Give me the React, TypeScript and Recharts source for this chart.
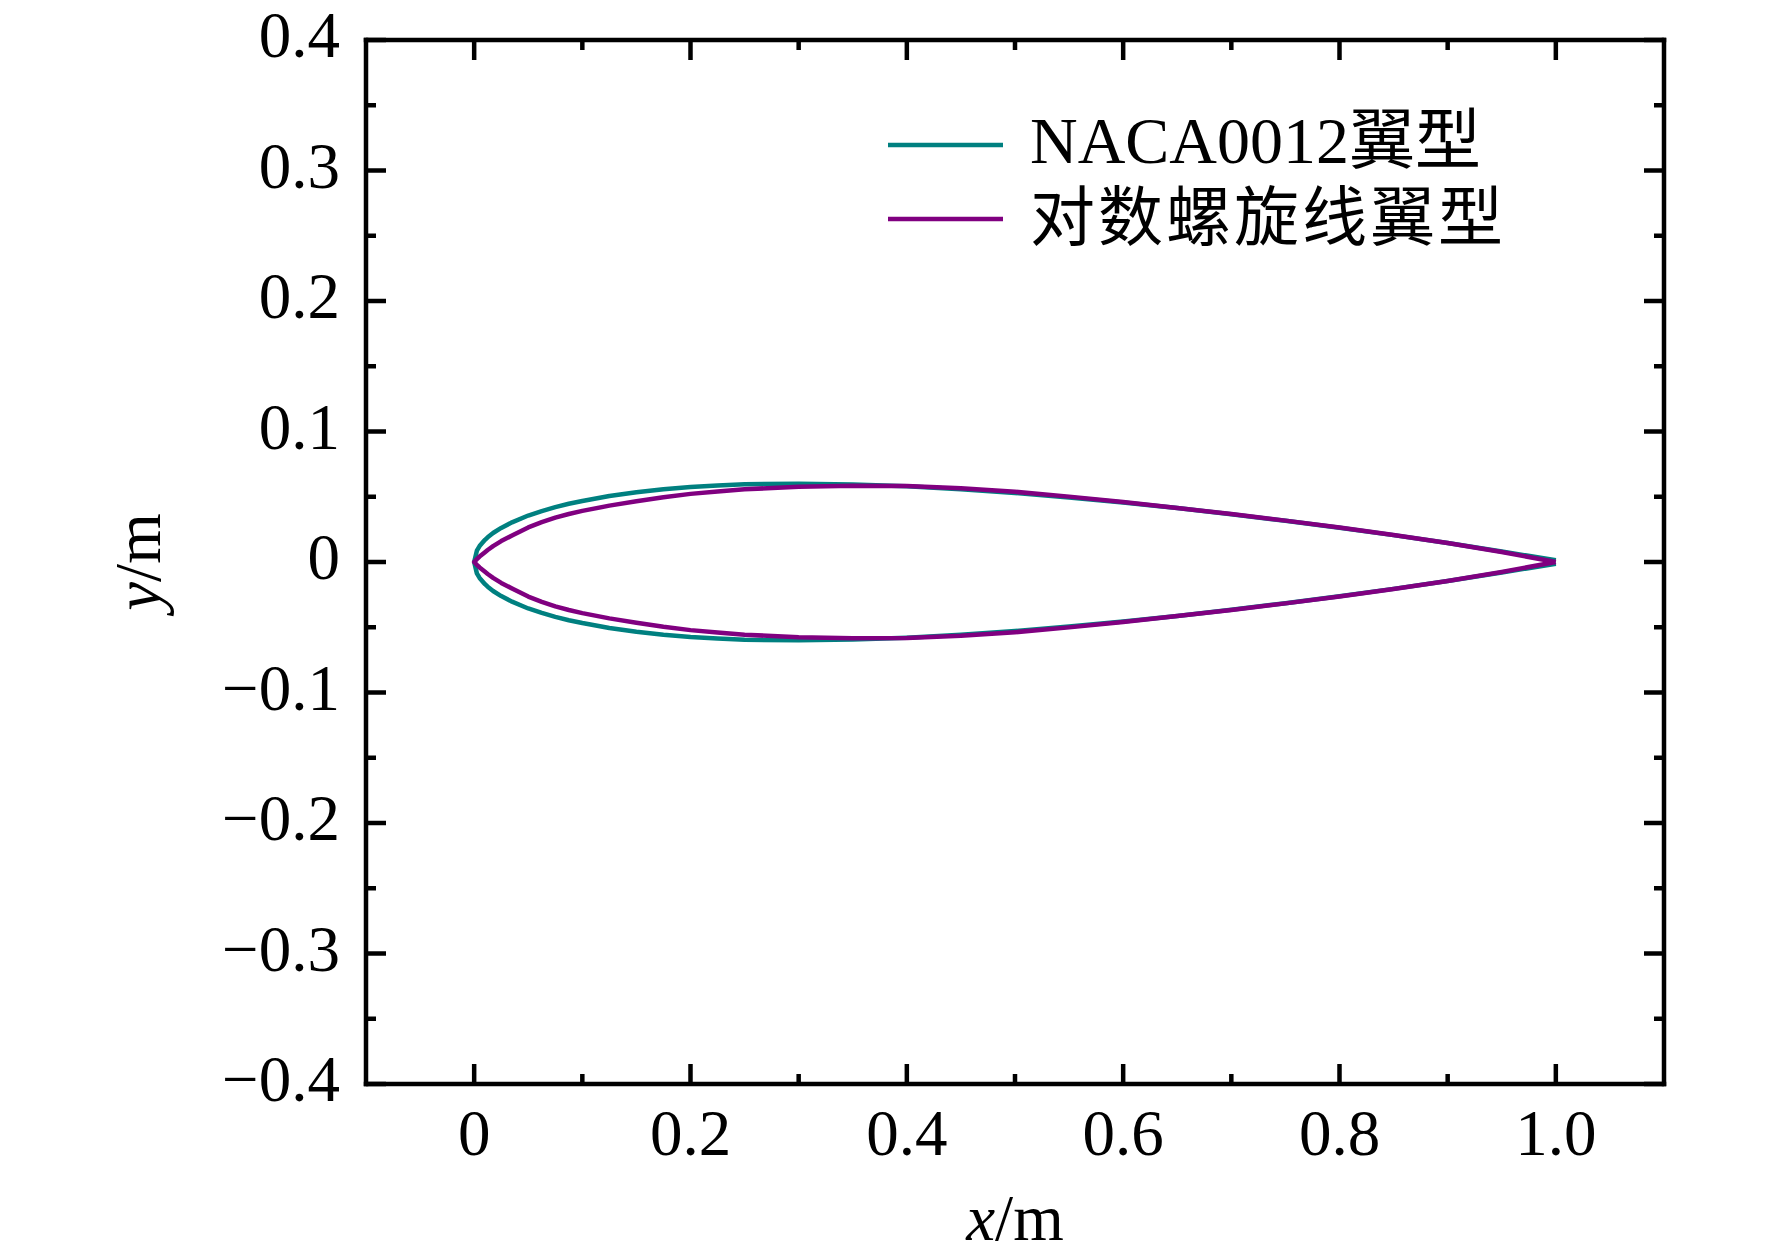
import { LineChart, Line, XAxis, YAxis, Legend } from "recharts";

// chord stations (x/m) and half thickness (y/m)
const stations = [
  0, 0.0025, 0.005, 0.01, 0.0125, 0.0175, 0.025, 0.035, 0.05, 0.0625, 0.075, 0.0875,
  0.1, 0.125, 0.15, 0.175, 0.2, 0.225, 0.25, 0.3, 0.35, 0.4, 0.45, 0.5, 0.55, 0.6,
  0.65, 0.7, 0.75, 0.8, 0.85, 0.9, 0.95, 1.0,
];
const nacaHalf = [
  0, 0.0087, 0.0122, 0.017, 0.0189, 0.0222, 0.0261, 0.0304, 0.0356, 0.039, 0.042,
  0.0446, 0.0468, 0.0506, 0.0534, 0.0557, 0.0574, 0.0586, 0.0596, 0.06, 0.0594,
  0.058, 0.0558, 0.0529, 0.0495, 0.0456, 0.0413, 0.0366, 0.0316, 0.0262, 0.0206,
  0.0145, 0.0081, 0.0013,
];
const spiralHalf = [
  0, 0.0022, 0.0042, 0.0075, 0.0092, 0.0122, 0.016, 0.0203, 0.0265, 0.0305, 0.034,
  0.0368, 0.0392, 0.0432, 0.0465, 0.0496, 0.0522, 0.0541, 0.0557, 0.0577, 0.0585,
  0.0582, 0.0566, 0.0538, 0.0501, 0.0459, 0.0414, 0.0367, 0.0317, 0.0264, 0.0207,
  0.0145, 0.0076, 0,
];

const xMajor = [0, 0.2, 0.4, 0.6, 0.8, 1.0];
const xMajorLabels = ["0", "0.2", "0.4", "0.6", "0.8", "1.0"];
const xMinor = [0.1, 0.3, 0.5, 0.7, 0.9];
const yMajor = [-0.4, -0.3, -0.2, -0.1, 0, 0.1, 0.2, 0.3, 0.4];
const yMajorLabels = ["−0.4", "−0.3", "−0.2", "−0.1", "0", "0.1", "0.2", "0.3", "0.4"];
const yMinor = [-0.35, -0.25, -0.15, -0.05, 0.05, 0.15, 0.25, 0.35];

const xTicks = [...xMajor, ...xMinor].sort((a, b) => a - b);
const yTicks = [...yMajor, ...yMinor].sort((a, b) => a - b);

// upper surface from trailing edge to leading edge, then lower surface back
const toContour = (half: number[]) => {
  const upper = stations.map((x, i) => ({ x, y: half[i] })).reverse();
  const lower = stations.slice(1).map((x, i) => ({ x, y: -half[i + 1] }));
  return [...upper, ...lower];
};

const nacaData = toContour(nacaHalf);
const spiralData = toContour(spiralHalf);

const FONT = '"Liberation Serif", "Times New Roman", "Noto Sans CJK SC", serif';
const FS = 65;
const MAJOR = 20;
const MINOR = 10;
const TICK_W = 4.5;

const BottomTick = (props: any) => {
  const { x, y, payload } = props;
  const i = xMajor.indexOf(payload.value);
  return (
    <g>
      <line x1={x} x2={x} y1={y} y2={y - (i >= 0 ? MAJOR : MINOR)} stroke="#000" strokeWidth={TICK_W} />
      {i >= 0 && (
        <text x={x} y={y + 71} textAnchor="middle" fontSize={FS} fontFamily={FONT} fill="#000">
          {xMajorLabels[i]}
        </text>
      )}
    </g>
  );
};

const TopTick = (props: any) => {
  const { x, y, payload } = props;
  const len = xMajor.includes(payload.value) ? MAJOR : MINOR;
  return <line x1={x} x2={x} y1={y} y2={y + len} stroke="#000" strokeWidth={TICK_W} />;
};

const LeftTick = (props: any) => {
  const { x, y, payload } = props;
  const i = yMajor.indexOf(payload.value);
  return (
    <g>
      <line x1={x} x2={x + (i >= 0 ? MAJOR : MINOR)} y1={y} y2={y} stroke="#000" strokeWidth={TICK_W} />
      {i >= 0 && (
        <text x={x - 26} y={y + 17} textAnchor="end" fontSize={FS} fontFamily={FONT} fill="#000">
          {yMajorLabels[i]}
        </text>
      )}
    </g>
  );
};

const RightTick = (props: any) => {
  const { x, y, payload } = props;
  const len = yMajor.includes(payload.value) ? MAJOR : MINOR;
  return <line x1={x} x2={x - len} y1={y} y2={y} stroke="#000" strokeWidth={TICK_W} />;
};

const XTitle = (props: any) => {
  const { viewBox } = props;
  const cx = viewBox.x + viewBox.width / 2;
  return (
    <text x={cx} y={viewBox.y + 156} textAnchor="middle" fontSize={FS} fontFamily={FONT} fill="#000">
      <tspan fontStyle="italic">x</tspan>/m
    </text>
  );
};

const YTitle = (props: any) => {
  const { viewBox } = props;
  const tx = viewBox.x - 86;
  const ty = viewBox.y + viewBox.height / 2;
  return (
    <text
      x={tx}
      y={ty}
      transform={`rotate(-90, ${tx}, ${ty})`}
      textAnchor="middle"
      fontSize={FS}
      fontFamily={FONT}
      fill="#000"
    >
      <tspan fontStyle="italic">y</tspan>/m
    </text>
  );
};

const LegendBox = (props: any) => {
  const items = props.payload ?? [];
  return (
    <svg width={680} height={170}>
      {items.map((it: any, i: number) => {
        const cy = 45 + i * 74;
        return (
          <g key={it.value}>
            <line x1={8} x2={123} y1={cy} y2={cy} stroke={it.color} strokeWidth={4.5} />
            <text
              x={150}
              y={cy + 18 + i * 3}
              fontSize={i === 0 ? 66 : FS}
              letterSpacing={i === 0 ? 0 : 3}
              fontFamily={FONT}
              fill="#000"
            >
              {it.value}
            </text>
          </g>
        );
      })}
    </svg>
  );
};

const frame = { stroke: "#000", strokeWidth: 4.5, strokeLinecap: "square" as const };

export default function App() {
  return (
    <div style={{ position: "absolute", left: 0, top: 0, background: "#fff" }}>
      <LineChart
        width={1772}
        height={1260}
        margin={{ top: 30, right: 98, bottom: 76, left: 246 }}
      >
        <XAxis
          dataKey="x"
          type="number"
          domain={[-0.1, 1.1]}
          allowDataOverflow
          ticks={xTicks}
          interval={0}
          tickSize={0}
          tickMargin={0}
          tickLine={false}
          tick={BottomTick}
          axisLine={frame}
          height={100}
          label={<XTitle />}
        />
        <XAxis
          xAxisId="top"
          orientation="top"
          dataKey="x"
          type="number"
          domain={[-0.1, 1.1]}
          allowDataOverflow
          ticks={xTicks}
          interval={0}
          tickSize={0}
          tickMargin={0}
          tickLine={false}
          tick={TopTick}
          axisLine={frame}
          height={10}
        />
        <YAxis
          type="number"
          domain={[-0.4, 0.4]}
          allowDataOverflow
          ticks={yTicks}
          interval={0}
          tickSize={0}
          tickMargin={0}
          tickLine={false}
          tick={LeftTick}
          axisLine={frame}
          width={120}
          label={<YTitle />}
        />
        <YAxis
          yAxisId="right"
          orientation="right"
          type="number"
          domain={[-0.4, 0.4]}
          allowDataOverflow
          ticks={yTicks}
          interval={0}
          tickSize={0}
          tickMargin={0}
          tickLine={false}
          tick={RightTick}
          axisLine={frame}
          width={10}
        />
        <Line
          data={nacaData}
          dataKey="y"
          name="NACA0012翼型"
          type="linear"
          stroke="#008080"
          strokeWidth={4.5}
          strokeLinejoin="round"
          dot={false}
          activeDot={false}
          isAnimationActive={false}
        />
        <Line
          data={spiralData}
          dataKey="y"
          name="对数螺旋线翼型"
          type="linear"
          stroke="#800080"
          strokeWidth={4.5}
          strokeLinejoin="round"
          dot={false}
          activeDot={false}
          isAnimationActive={false}
        />
        <Legend
          layout="vertical"
          align="center"
          verticalAlign="middle"
          wrapperStyle={{ left: 880, top: 100, width: 680, height: 170 }}
          content={LegendBox}
        />
      </LineChart>
    </div>
  );
}
